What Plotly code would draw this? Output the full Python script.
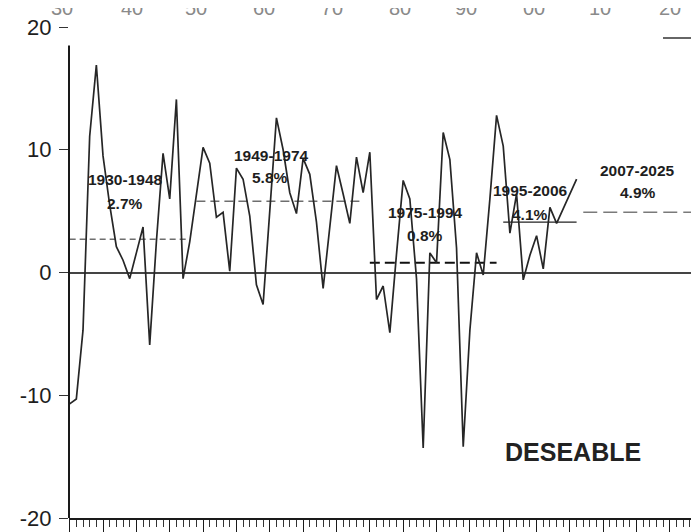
import plotly.graph_objects as go

# ---- data ----
years = list(range(1930, 2007))
growth = [
    -10.7, -10.3, -4.7, 11.1, 16.9, 9.5, 5.5, 2.1, 1.0, -0.5,   # 1930-1939
    1.6, 3.7, -5.9, 2.5, 9.7, 6.0, 14.1, -0.5, 2.5, 6.3,        # 1940-1949
    10.2, 8.9, 4.5, 4.9, 0.1, 8.5, 7.6, 4.6, -1.0, -2.6,        # 1950-1959
    5.0, 12.6, 10.0, 6.5, 4.8, 9.3, 8.0, 4.1, -1.3, 3.7,        # 1960-1969
    8.7, 6.4, 4.0, 9.4, 6.5, 9.8, -2.2, -1.1, -4.9, 1.5,        # 1970-1979
    7.5, 6.0, -0.5, -14.3, 1.6, 0.8, 11.4, 9.2, 2.0, -14.2,     # 1980-1989
    -4.7, 1.6, -0.2, 6.0, 12.8, 10.3, 3.2, 6.4, -0.6, 1.4,      # 1990-1999
    3.0, 0.3, 5.3, 4.0, 5.2, 6.4, 7.6,                          # 2000-2006
]

period_labels = ["1930-1948", "1949-1974", "1975-1994", "1995-2006", "2007-2025"]
period_means = [2.7, 5.8, 0.8, 4.1, 4.9]
period_start = [1930, 1949, 1975, 1995, 2007]
period_end = [1948, 1974, 1994, 2006, 2025]

y_ticks = [20, 10, 0, -10, -20]
top_labels = ["30", "40", "50", "60", "70", "80", "90", "00", "10", "20"]
watermark = "DESEABLE"

# ---- layout helpers (the page body adds an 8px offset) ----
OFF = 8
W, H = 699, 532
ML, MR, MT, MB = 61, 0, 19, 22
PW, PH = W - ML - MR, H - MT - MB


def px_x(page_px):
    return (page_px - OFF - ML) / PW


def px_y(page_py):
    return 1 - (page_py - OFF - MT) / PH


period_styles = [
    dict(color="#6e6e6e", width=1.5, dash="6px,4px"),
    dict(color="#6e6e6e", width=1.5, dash="9px,5px"),
    dict(color="#111111", width=2.0, dash="10px,5px"),
    dict(color="#222222", width=1.4, dash="solid"),
    dict(color="#7a7a7a", width=1.5, dash="14px,6px"),
]
label_pos = [  # (x year, y value) of label line 1 and line 2
    ((1938.4, 7.6), (1938.3, 5.65)),
    ((1960.2, 9.5), (1960.1, 7.7)),
    ((1983.4, 4.9), (1983.2, 3.0)),
    ((1999.1, 6.7), (1999.0, 4.7)),
    ((2015.2, 8.35), (2015.2, 6.5)),
]

fig = go.Figure()

for i in range(len(period_labels)):
    fig.add_trace(go.Scatter(
        x=[period_start[i], period_end[i]],
        y=[period_means[i], period_means[i]],
        mode="lines", line=period_styles[i], hoverinfo="skip", showlegend=False,
    ))

fig.add_trace(go.Scatter(
    x=years, y=growth, mode="lines",
    line=dict(color="#262626", width=1.7),
    showlegend=False,
))

lab_font = dict(family="Liberation Sans, Arial, sans-serif", size=15.5, color="#1e1e1e")
annotations = []
for i, lab in enumerate(period_labels):
    (x1, y1), (x2, y2) = label_pos[i]
    annotations.append(dict(x=x1, y=y1, xref="x", yref="y", text="<b>%s</b>" % lab,
                            showarrow=False, font=lab_font, xanchor="center", yanchor="middle"))
    annotations.append(dict(x=x2, y=y2, xref="x", yref="y",
                            text="<b>%s%%</b>" % ("%.1f" % period_means[i]),
                            showarrow=False, font=lab_font, xanchor="center", yanchor="middle"))

annotations.append(dict(x=2005.4, y=-14.6, xref="x", yref="y", text="<b>%s</b>" % watermark,
                        showarrow=False, xanchor="center", yanchor="middle",
                        font=dict(family="Liberation Sans, Arial, sans-serif", size=25, color="#222")))

top_px = [62, 132, 196, 264, 332, 400, 466, 534, 600, 670]
for t, px in zip(top_labels, top_px):
    annotations.append(dict(x=px_x(px), y=px_y(21), xref="paper", yref="paper", text=t,
                            showarrow=False, xanchor="center", yanchor="bottom",
                            font=dict(family="Liberation Sans, Arial, sans-serif", size=20, color="#8a8a8a")))

shapes = [
    # y axis line (starts a little below the top tick)
    dict(type="line", xref="paper", yref="y", x0=0, x1=0, y0=-20, y1=18.5,
         line=dict(color="#1a1a1a", width=2)),
    # legend fragment at top right
    dict(type="line", xref="paper", yref="paper", x0=px_x(663), x1=px_x(699), y0=px_y(38), y1=px_y(38),
         line=dict(color="#333", width=1.5)),
    dict(type="line", xref="paper", yref="paper", x0=px_x(697), x1=px_x(697), y0=px_y(10), y1=px_y(62),
         line=dict(color="#333", width=1.5)),
]

fig.update_layout(
    width=W, height=H,
    margin=dict(l=ML, r=MR, t=MT, b=MB, pad=0),
    paper_bgcolor="white", plot_bgcolor="white",
    showlegend=False,
    annotations=annotations, shapes=shapes,
    xaxis=dict(range=[1929.9, 2025.55], showgrid=False, zeroline=False,
               showline=True, linecolor="#1a1a1a", linewidth=1.5,
               ticks="outside", tick0=1930, dtick=5, ticklen=13, tickwidth=1.3, tickcolor="#1a1a1a",
               minor=dict(ticks="outside", dtick=1, ticklen=7, tickwidth=1, tickcolor="#333"),
               showticklabels=False),
    yaxis=dict(range=[-20, 20], showgrid=False,
               zeroline=True, zerolinecolor="#444", zerolinewidth=1.5,
               showline=False,
               tickmode="array", tickvals=y_ticks, ticktext=[str(v) for v in y_ticks],
               ticks="outside", ticklen=9, tickwidth=1.2, tickcolor="#333",
               ticklabelstandoff=3,
               tickfont=dict(family="Liberation Sans, Arial, sans-serif", size=22, color="#1e1e1e")),
)

fig.write_html("out.html")
